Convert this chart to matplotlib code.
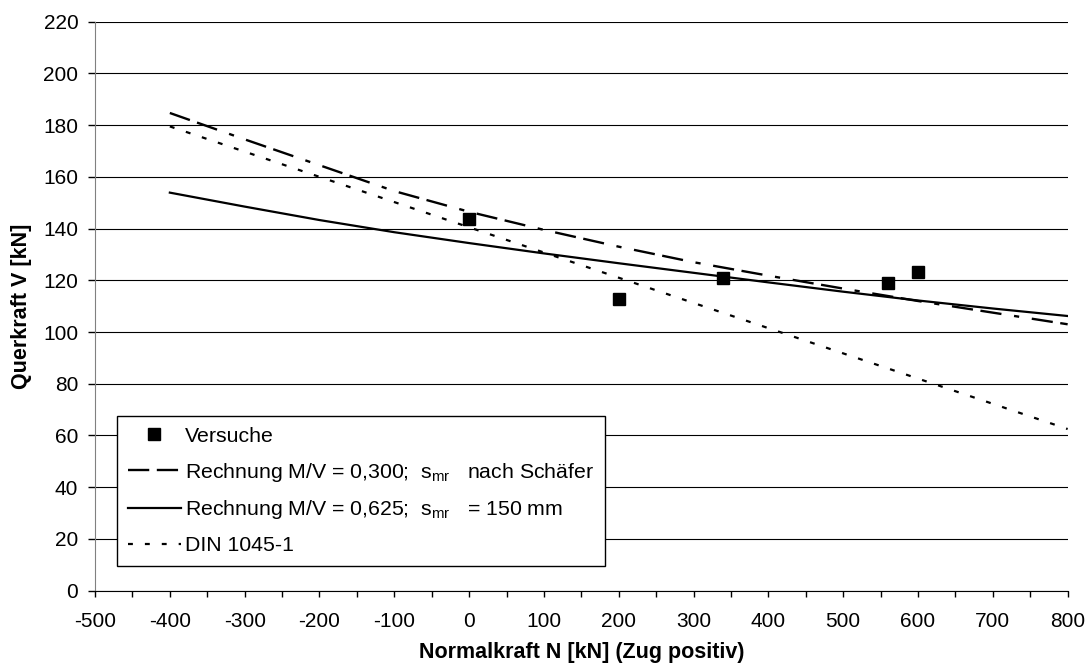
import matplotlib
matplotlib.use("Agg")
import matplotlib.pyplot as plt
from matplotlib.ticker import MultipleLocator

plt.rcParams['font.family'] = ['Liberation Sans', 'DejaVu Sans']
plt.rcParams['mathtext.fontset'] = 'custom'
plt.rcParams['mathtext.rm'] = 'Liberation Sans'
plt.rcParams['axes.unicode_minus'] = False

# Versuche
versuche_n = [0, 200, 340, 560, 600]
versuche_v = [143.7, 112.7, 120.8, 119.1, 123.4]

# Rechnung M/V = 0,300 (s_mr nach Schäfer)
n_calc = [-400, -300, -200, -100, 0, 100, 200, 300, 400, 500, 600, 700, 800]
v_mv300 = [184.7, 174.5, 164.5, 154.5, 146.5, 139.5, 133.0, 127.0, 121.8, 116.8, 112.0, 107.5, 103.0]

# Rechnung M/V = 0,625 (s_mr = 150 mm)
v_mv625 = [153.9, 148.5, 143.3, 138.6, 134.4, 130.4, 126.6, 122.9, 119.2, 115.6, 112.2, 109.1, 106.2]

# DIN 1045-1
din_n = [-400, 800]
din_v = [179.5, 62.5]

labels = [
    "Versuche",
    "Rechnung M/V = 0,300;  $\\mathregular{s_{mr}}$   nach Schäfer",
    "Rechnung M/V = 0,625;  $\\mathregular{s_{mr}}$   = 150 mm",
    "DIN 1045-1",
]


def draw_chart():
    fig = plt.figure(figsize=(10.91, 6.71), dpi=100)
    ax = fig.add_axes([0.0871, 0.1197, 0.8915, 0.848])

    ax.plot(versuche_n, versuche_v, linestyle='none', marker='s', markersize=8.4,
            color='black', label=labels[0], zorder=4)
    ax.plot(n_calc, v_mv300, color='black', lw=1.7,
            linestyle=(0, (9, 3.2, 9, 5.4, 2.2, 5.4)), label=labels[1], zorder=3)
    ax.plot(n_calc, v_mv625, color='black', lw=1.6, linestyle='-', label=labels[2], zorder=3)
    ax.plot(din_n, din_v, color='black', lw=1.6, linestyle=(0, (2.2, 5.4)),
            label=labels[3], zorder=3)

    ax.set_xlim(-500, 800)
    ax.set_ylim(0, 220)
    ax.xaxis.set_major_locator(MultipleLocator(100))
    ax.xaxis.set_minor_locator(MultipleLocator(50))
    ax.yaxis.set_major_locator(MultipleLocator(20))

    ax.grid(axis='y', color='black', lw=0.8, zorder=0)
    ax.set_axisbelow(True)
    ax.spines['top'].set_visible(False)
    ax.spines['right'].set_visible(False)
    ax.spines['left'].set_color('#808080')
    ax.spines['bottom'].set_color('black')

    ax.tick_params(axis='x', which='both', direction='out', length=4.5, width=1,
                   labelsize=15, pad=11)
    ax.tick_params(axis='y', direction='out', length=5, width=1, labelsize=15, pad=7)

    ax.set_xlabel('Normalkraft N [kN] (Zug positiv)', fontsize=15.5, fontweight='bold', labelpad=8)
    ax.set_ylabel('Querkraft V [kN]', fontsize=15.5, fontweight='bold', labelpad=8)

    leg = ax.legend(loc='lower left', bbox_to_anchor=(0.0226, 0.0434), borderaxespad=0,
                    fontsize=15.3, numpoints=1, handlelength=2.5, handletextpad=0.2,
                    borderpad=0.5, labelspacing=0.7, fancybox=False, framealpha=1,
                    edgecolor='black')
    leg.get_frame().set_linewidth(1)

    fig.savefig('out.png', dpi=100)


if __name__ == "__main__":
    draw_chart()
